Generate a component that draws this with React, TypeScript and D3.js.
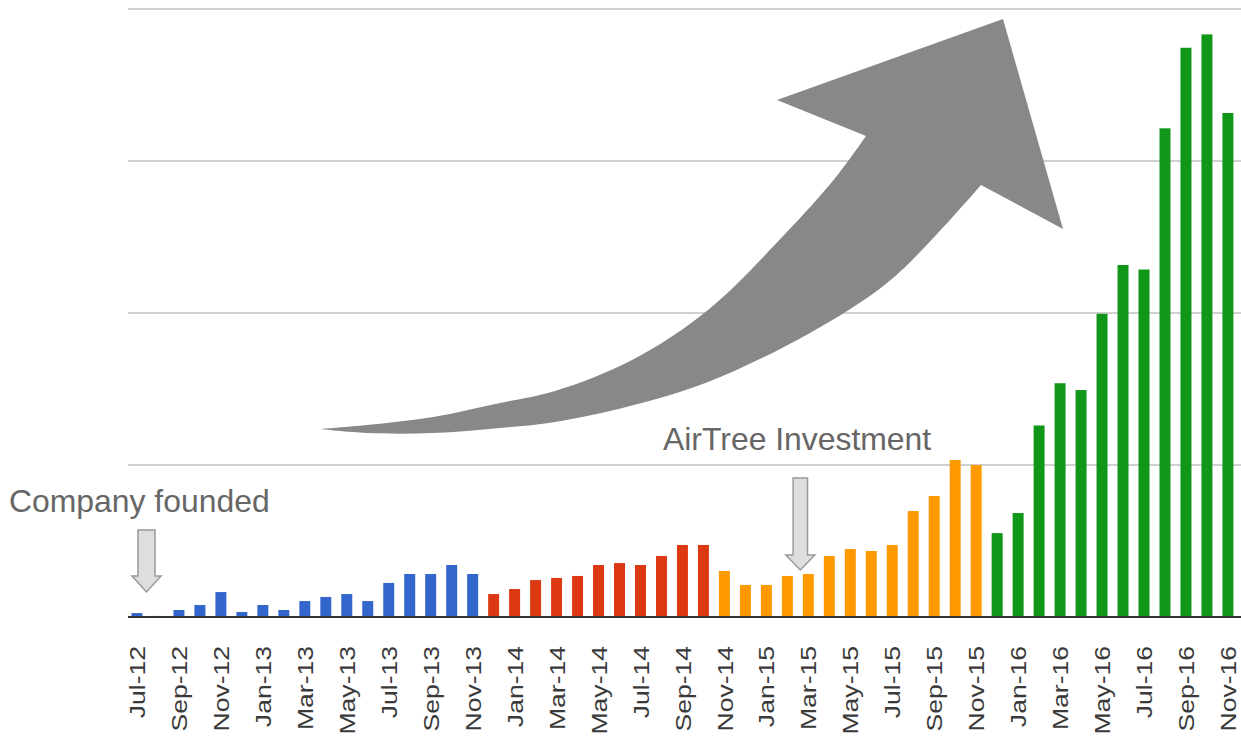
import React from "react";
import * as d3 from "d3";

const months = [
  "Jul-12","Aug-12","Sep-12","Oct-12","Nov-12","Dec-12",
  "Jan-13","Feb-13","Mar-13","Apr-13","May-13","Jun-13","Jul-13","Aug-13","Sep-13","Oct-13","Nov-13","Dec-13",
  "Jan-14","Feb-14","Mar-14","Apr-14","May-14","Jun-14","Jul-14","Aug-14","Sep-14","Oct-14","Nov-14","Dec-14",
  "Jan-15","Feb-15","Mar-15","Apr-15","May-15","Jun-15","Jul-15","Aug-15","Sep-15","Oct-15","Nov-15","Dec-15",
  "Jan-16","Feb-16","Mar-16","Apr-16","May-16","Jun-16","Jul-16","Aug-16","Sep-16","Oct-16","Nov-16",
];

// Phase values (arbitrary units, gridline every 100)
const blueValues = [2.6, 0.7, 4.6, 7.9, 16.4, 3.3, 7.9, 4.6, 10.5, 13.2, 15.1, 10.5, 22.4, 28.3, 28.3, 34.2, 28.3];
const redValues = [15.1, 18.4, 24.3, 25.7, 27, 34.2, 35.5, 34.2, 40.1, 47.4, 47.4];
const orangeValues = [30.3, 21.1, 21.1, 27, 28.3, 40.1, 44.7, 43.4, 47.4, 69.7, 79.6, 103.3, 100];
const greenValues = [55.2, 68.4, 126, 153.8, 149.3, 199.5, 231.6, 228.6, 321.5, 374.5, 383.3, 331.6];

const phaseColors = ["#3366cc", "#dc3912", "#ff9900", "#109618"];
const gridValues = [0, 100, 200, 300, 400];

const annotations = [
  { text: "Company founded", month: "Jul-12" },
  { text: "AirTree Investment", month: "Mar-15" },
];

const W = 1241;
const H = 736;
const FONT = "'Liberation Sans', Arial, Helvetica, sans-serif";

export default function App() {
  const phases = [blueValues, redValues, orangeValues, greenValues];
  const data: { month: string; value: number; color: string }[] = [];
  let k = 0;
  phases.forEach((vals, p) => {
    vals.forEach((v) => {
      data.push({ month: months[k], value: v, color: phaseColors[p] });
      k++;
    });
  });

  const x = d3
    .scaleBand<string>()
    .domain(months)
    .range([126.5, 1238.4])
    .paddingInner(0.477)
    .paddingOuter(0.238);
  const y = d3.scaleLinear().domain([0, 400]).range([617, 9]);

  const cx = (m: string) => (x(m) as number) + x.bandwidth() / 2;
  const tickMonths = months.filter((_, i) => i % 2 === 0);

  // Big curved arrow (decoration)
  const lowerEdge: [number, number][] = [
    [320, 429], [367, 433], [433, 433], [500, 428], [555, 422], [630, 406],
    [708, 382], [810, 333], [887, 283], [938, 233], [981, 185],
  ];
  const upperEdge: [number, number][] = [
    [866, 136], [836, 177], [785, 234], [708, 310], [632, 360], [555, 391],
    [500, 403], [433, 417], [367, 425], [320, 429],
  ];
  const curve = d3.line().curve(d3.curveCatmullRom.alpha(0.5));
  const lowerPath = curve(lowerEdge) as string;
  const upperPath = (curve(upperEdge) as string).replace(/^M/, "L");
  const bigArrow =
    lowerPath + "L1063,229L1003,19L777,100" + upperPath + "Z";

  const downArrow = (cxp: number, top: number, shoulder: number, tip: number, shaftHalf: number, headHalf: number) =>
    `M${cxp - shaftHalf},${top}L${cxp + shaftHalf},${top}L${cxp + shaftHalf},${shoulder}L${cxp + headHalf},${shoulder}L${cxp},${tip}L${cxp - headHalf},${shoulder}L${cxp - shaftHalf},${shoulder}Z`;

  const a0 = cx(annotations[0].month);
  const a1 = cx(annotations[1].month);

  const tickFont = 22.5;

  return (
    <svg
      width={W}
      height={H}
      style={{ position: "absolute", left: 0, top: 0, background: "#fff" }}
      fontFamily={FONT}
    >
      <rect x={0} y={0} width={W} height={H} fill="#fff" />
      {gridValues.slice(1).map((g) => (
        <line key={g} x1={128} x2={1241} y1={y(g)} y2={y(g)} stroke="#d0d0d0" strokeWidth={2} />
      ))}
      {data.map((d) => (
        <rect
          key={d.month}
          x={x(d.month)}
          y={y(d.value)}
          width={x.bandwidth()}
          height={y(0) - y(d.value)}
          fill={d.color}
        />
      ))}
      <line x1={128} x2={1241} y1={y(0)} y2={y(0)} stroke="#333" strokeWidth={2} />
      {tickMonths.map((m) => (
        <text
          key={m}
          transform={`translate(${cx(m) + tickFont * 0.36},646) rotate(-90) scale(1.18,1)`}
          textAnchor="end"
          fontSize={tickFont}
          fill="#3a3a3a"
        >
          {m}
        </text>
      ))}
      <path d={bigArrow} fill="#888888" />
      <text x={9} y={512} fontSize={31.9} fill="#666">{annotations[0].text}</text>
      <text x={663} y={450} fontSize={31.9} fill="#666">{annotations[1].text}</text>
      <path d={downArrow(a0 + 9.5, 530, 576, 592, 8.5, 14.5)} fill="#dedede" stroke="#999" strokeWidth={1.5} />
      <path d={downArrow(a1 - 8, 478, 555, 570, 7.2, 14.5)} fill="#dedede" stroke="#999" strokeWidth={1.5} />
    </svg>
  );
}
